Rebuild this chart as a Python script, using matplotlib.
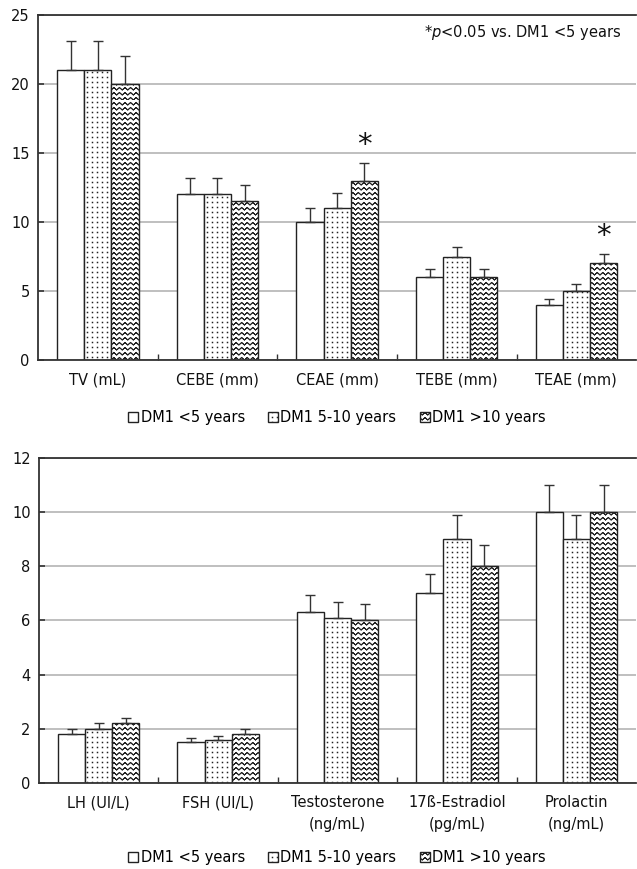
"""
Two grouped bar panels (testicular measures and hormones) by DM1 duration.
Wavy and dot fills use small custom hatches registered with matplotlib.
"""

import warnings
import numpy as np
import matplotlib
matplotlib.use("Agg")
import matplotlib.pyplot as plt
from matplotlib import hatch as mhatch
from matplotlib.path import Path

warnings.filterwarnings("ignore")

# --- data -------------------------------------------------------------------
groups = ["DM1 <5 years", "DM1 5-10 years", "DM1 >10 years"]

top_labels = ["TV (mL)", "CEBE (mm)", "CEAE (mm)", "TEBE (mm)", "TEAE (mm)"]
top_lt5 = [21, 12, 10, 6, 4]
top_5to10 = [21, 12, 11, 7.5, 5]
top_gt10 = [20, 11.5, 13, 6, 7]
top_err_lt5 = [2.1, 1.2, 1.0, 0.6, 0.4]
top_err_5to10 = [2.1, 1.2, 1.1, 0.7, 0.5]
top_err_gt10 = [2.0, 1.2, 1.3, 0.6, 0.7]
top_star_idx = [2, 4]          # categories with * on the >10 years bar

bot_labels = ["LH (UI/L)", "FSH (UI/L)", "Testosterone\n(ng/mL)",
              "17ß-Estradiol\n(pg/mL)", "Prolactin\n(ng/mL)"]
bot_lt5 = [1.8, 1.5, 6.3, 7, 10]
bot_5to10 = [2.0, 1.6, 6.1, 9, 9]
bot_gt10 = [2.2, 1.8, 6.0, 8, 10]
bot_err_lt5 = [0.2, 0.15, 0.65, 0.7, 1.0]
bot_err_5to10 = [0.2, 0.15, 0.6, 0.9, 0.9]
bot_err_gt10 = [0.2, 0.2, 0.6, 0.8, 1.0]


# --- custom hatches ---------------------------------------------------------
class WaveHatch(mhatch.HatchPatternBase):
    """'~' : rows of zigzag waves (drawn forward then back so nothing fills)."""
    def __init__(self, hatch, density):
        self.num_rows = int(hatch.count("~") * 5)
        self.num_waves = 18
        self.num_vertices = self.num_rows * 2 * (2 * self.num_waves + 1)

    def set_vertices_and_codes(self, vertices, codes):
        n = 2 * self.num_waves + 1
        xs = np.linspace(0, 1, n)
        amp = 0.5 / self.num_rows
        bump = amp * (np.arange(n) % 2)
        for r in range(self.num_rows):
            y0 = r / self.num_rows
            s = r * 2 * n
            vertices[s:s + n, 0] = xs
            vertices[s:s + n, 1] = y0 + bump
            vertices[s + n:s + 2 * n, 0] = xs[::-1]
            vertices[s + n:s + 2 * n, 1] = (y0 + bump)[::-1]
            codes[s] = Path.MOVETO
            codes[s + 1:s + 2 * n] = Path.LINETO


class GridDotHatch(mhatch.HatchPatternBase):
    """':' : regular (non staggered) grid of tiny square dots."""
    def __init__(self, hatch, density):
        self.n = int(hatch.count(":") * 5)
        self.num_vertices = self.n * self.n * 5

    def set_vertices_and_codes(self, vertices, codes):
        n = self.n
        h = 0.06 / n
        sq = np.array([[-h, -h], [h, -h], [h, h], [-h, h], [-h, -h]])
        k = 0
        for i in range(n):
            for j in range(n):
                c = [(i + 0.5) / n, (j + 0.5) / n]
                vertices[k:k + 5] = sq + c
                codes[k] = Path.MOVETO
                codes[k + 1:k + 4] = Path.LINETO
                codes[k + 4] = Path.CLOSEPOLY
                k += 5


mhatch._hatch_types.extend([WaveHatch, GridDotHatch])

plt.rcParams["font.family"] = "DejaVu Sans"
plt.rcParams["hatch.linewidth"] = 0.65

EDGE = "#222222"
AXIS = "#333333"
GRID = "#b4b4b4"
HATCHES = [None, "::::", "~~~~"]
BAR_W = 0.227
FS = 10.5

fig = plt.figure(figsize=(6.37, 8.69), dpi=100)
ax_top = fig.add_axes([0.0597, 0.5857, 0.9390, 0.3970])
ax_bot = fig.add_axes([0.0612, 0.0990, 0.9375, 0.3740])


def draw_panel(ax, labels, series, errs, ymax, ystep):
    x = np.arange(len(labels))
    handles = []
    for k, (vals, err) in enumerate(zip(series, errs)):
        pos = x + (k - 1) * BAR_W
        b = ax.bar(pos, vals, BAR_W, color="white", edgecolor=EDGE,
                   linewidth=1.0, hatch=HATCHES[k], zorder=2, label=groups[k])
        ax.errorbar(pos, vals, yerr=[np.zeros(len(vals)), err], fmt="none",
                    ecolor=AXIS, elinewidth=1.0, capsize=3.5, capthick=1.0,
                    zorder=3)
        handles.append(b)

    ax.set_xlim(-0.5, len(labels) - 0.5)
    ax.set_ylim(0, ymax)
    ax.set_yticks(np.arange(0, ymax + 0.1, ystep))
    ax.set_xticks(x)
    ax.set_xticklabels(labels, fontsize=FS, linespacing=1.55)
    ax.set_xticks(x[:-1] + 0.5, minor=True)
    ax.tick_params(axis="x", which="major", length=0, pad=9, colors="#111111")
    ax.tick_params(axis="x", which="minor", direction="in", length=4,
                   width=1.0, color=AXIS)
    ax.tick_params(axis="y", direction="in", length=4, width=1.2, color=AXIS,
                   labelsize=FS, labelcolor="#111111", pad=6)
    ax.yaxis.grid(True, color=GRID, linewidth=1.2)
    ax.set_axisbelow(True)
    ax.spines["right"].set_visible(False)
    for s in ("left", "bottom", "top"):
        ax.spines[s].set_color(AXIS)
        ax.spines[s].set_linewidth(1.3)
    return handles


h_top = draw_panel(ax_top, top_labels, [top_lt5, top_5to10, top_gt10],
                   [top_err_lt5, top_err_5to10, top_err_gt10], 25, 5)
h_bot = draw_panel(ax_bot, bot_labels, [bot_lt5, bot_5to10, bot_gt10],
                   [bot_err_lt5, bot_err_5to10, bot_err_gt10], 12, 2)

# significance stars above the >10 years bars
for i in top_star_idx:
    top = top_gt10[i] + top_err_gt10[i]
    ax_top.text(i + BAR_W, top + 1.3, "*", ha="center", va="center",
                fontsize=21, color="#111111")

ax_top.text(0.975, 0.95, r"*$\it{p}$<0.05 vs. DM1 <5 years",
            transform=ax_top.transAxes, ha="right", va="center",
            fontsize=FS, color="#111111")

legend_kw = dict(loc="center", ncol=3, frameon=False, fontsize=FS,
                 handlelength=0.7, handleheight=0.7, handletextpad=0.15,
                 columnspacing=1.6, borderaxespad=0)
fig.legend(handles=h_top, bbox_to_anchor=(0.529, 0.519), **legend_kw)
fig.legend(handles=h_bot, bbox_to_anchor=(0.529, 0.0127), **legend_kw)

fig.savefig("out.png", dpi=100)
